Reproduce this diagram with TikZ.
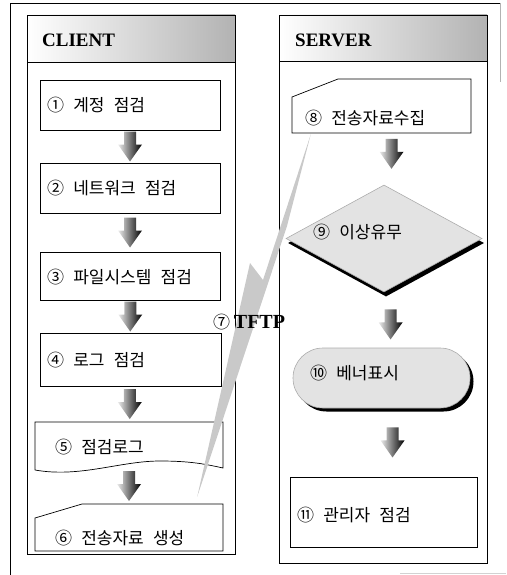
\documentclass[tikz,border=0pt]{standalone}
\usepackage{fontspec}
\setmainfont{Liberation Serif}
\newfontfamily\kr[WordSpace=2.4]{Noto Sans CJK KR}
\usetikzlibrary{calc,shapes.geometric}
\tikzset{
  panel/.style={draw, line width=0.8pt, inner sep=0pt},
  header/.style={draw, line width=0.8pt, inner sep=0pt, left color=white, middle color=white, right color=gray!60},
  holder/.style={inner sep=0pt},
  procbox/.style={draw, line width=0.7pt, inner sep=0pt},
  outline/.style={draw, line width=0.7pt},
  titletext/.style={font=\bfseries\fontsize{19}{22}\selectfont, anchor=west, inner sep=0pt},
  tx/.style={font=\kr\fontsize{17}{20}\selectfont, anchor=west, inner sep=0pt},
  grayfill/.style={fill=gray!22, draw=gray!65, line width=0.6pt},
  shadowfill/.style={fill=black, draw=none},
  bolt/.style={fill=gray!42, draw=none},
  pics/dnarrow/.style={code={
    \shade[left color=gray!15, right color=black]
      (-6,-15) -- (6,-15) -- (6,-2) -- (12,-2) -- (0,15) -- (-12,-2) -- (-6,-2) -- cycle;}}
}
\begin{document}
\begin{tikzpicture}[x=1pt,y=-1pt]
\useasboundingbox (0,0) rectangle (506,575);
% outer frame
\draw[line width=0.8pt] (10,575) -- (10,3) -- (500,3);
\draw[gray!60, line width=0.6pt] (500,3) -- (500,82);
\draw[gray!35, line width=1pt] (400,573) -- (506,573);

% panels
\node[panel, minimum width=208pt, minimum height=539pt] (cp) at (131,284.5) {};
\node[header, minimum width=208pt, minimum height=47pt, anchor=north west] (ch) at (cp.north west) {};
\node[titletext] (ct) at (42,40) {CLIENT};
\node[panel, minimum width=208pt, minimum height=548pt] (sp) at (383,289) {};
\node[header, minimum width=208pt, minimum height=46pt, anchor=north west] (sh) at (sp.north west) {};
\node[titletext] (st) at (295,40) {SERVER};

% client boxes
\node[procbox, minimum width=180pt, minimum height=50pt] (b1) at (130,105) {};
\node[procbox, minimum width=180pt, minimum height=50pt] (b2) at (130,188) {};
\node[procbox, minimum width=180pt, minimum height=48pt] (b3) at (130,276) {};
\node[procbox, minimum width=181pt, minimum height=53pt] (b4) at (130.5,359.5) {};
\node[holder, minimum width=188pt, minimum height=46pt] (b5) at (129,445) {};
\draw[outline] (35,470) -- (35,422) -- (223,422) -- (223,468)
  .. controls (205,464) and (190,461) .. (160,461)
  .. controls (120,461) and (80,478) .. (35,470);
\node[holder, minimum width=188pt, minimum height=47pt] (b6) at (129,527.5) {};
\draw[outline] (35,518) -- (82,504) -- (223,504) -- (223,551) -- (35,551) -- cycle;

% server boxes
\node[holder, minimum width=179pt, minimum height=54pt] (b8) at (381.5,106) {};
\draw[outline] (292,97) -- (338,79) -- (471,79) -- (471,133) -- (292,133) -- cycle;
\node[diamond, shadowfill, inner sep=0pt, minimum width=196pt, minimum height=107pt] (b9s) at (386,243) {};
\node[diamond, grayfill, inner sep=0pt, minimum width=196pt, minimum height=107pt] (b9) at (384,238.5) {};
\node[rectangle, rounded corners=30pt, shadowfill, inner sep=0pt, minimum width=177pt, minimum height=60pt] (b10s) at (385,381.5) {};
\node[rectangle, rounded corners=30pt, grayfill, inner sep=0pt, minimum width=177pt, minimum height=60pt] (b10) at (381.5,378) {};
\node[procbox, minimum width=187pt, minimum height=70pt] (b11) at (383.5,512) {};

% block arrows
\path ($(b1.south)!0.5!(b2.north)$) pic {dnarrow};
\path ($(b2.south)!0.5!(b3.north)$) pic {dnarrow};
\path ($(b3.south)!0.5!(b4.north)$) pic {dnarrow};
\path ($(b4.south)!0.5!(b5.north)$) pic {dnarrow};
\path ($(b5.south)!0.5!(b6.north)$) pic {dnarrow};
\path ($(b8.south)!0.4!(b9.north)+(9,0)$) pic {dnarrow};
\path ($(b9.south)!0.58!(b10.north)+(8,0)$) pic {dnarrow};
\path ($(b10.south)!0.5!(b11.north)+(10,0)$) pic {dnarrow};

% TFTP bolt
\coordinate (l1) at ($(b6.north east)+(-26,-7)$);
\coordinate (l2) at ($(b8.south west)+(19,1)$);
\fill[bolt] (l1) -- (250,263) -- (263,280) -- (l2) -- (287,226) -- cycle;
\node[tx, anchor=west] (t7) at (213,322) {⑦};
\node[titletext, font=\bfseries\fontsize{20}{22}\selectfont] (t7b) at (t7.east) {\,TFTP};

% texts
\node[tx] (t1) at (47,105) {① 계정 점검};
\node[tx] (t2) at (47,188) {② 네트워크 점검};
\node[tx] (t3) at (47,277) {③ 파일시스템 점검};
\node[tx] (t4) at (47,360) {④ 로그 점검};
\node[tx] (t5) at (55,447) {⑤ 점검로그};
\node[tx] (t6) at (55,538) {⑥ 전송자료 생성};
\node[tx] (t8) at (305,118) {⑧ 전송자료수집};
\node[tx] (t9) at (313,232) {⑨ 이상유무};
\node[tx] (t10) at (310,373) {⑩ 베너표시};
\node[tx] (t11) at (297,515) {⑪ 관리자 점검};
\end{tikzpicture}
\end{document}
